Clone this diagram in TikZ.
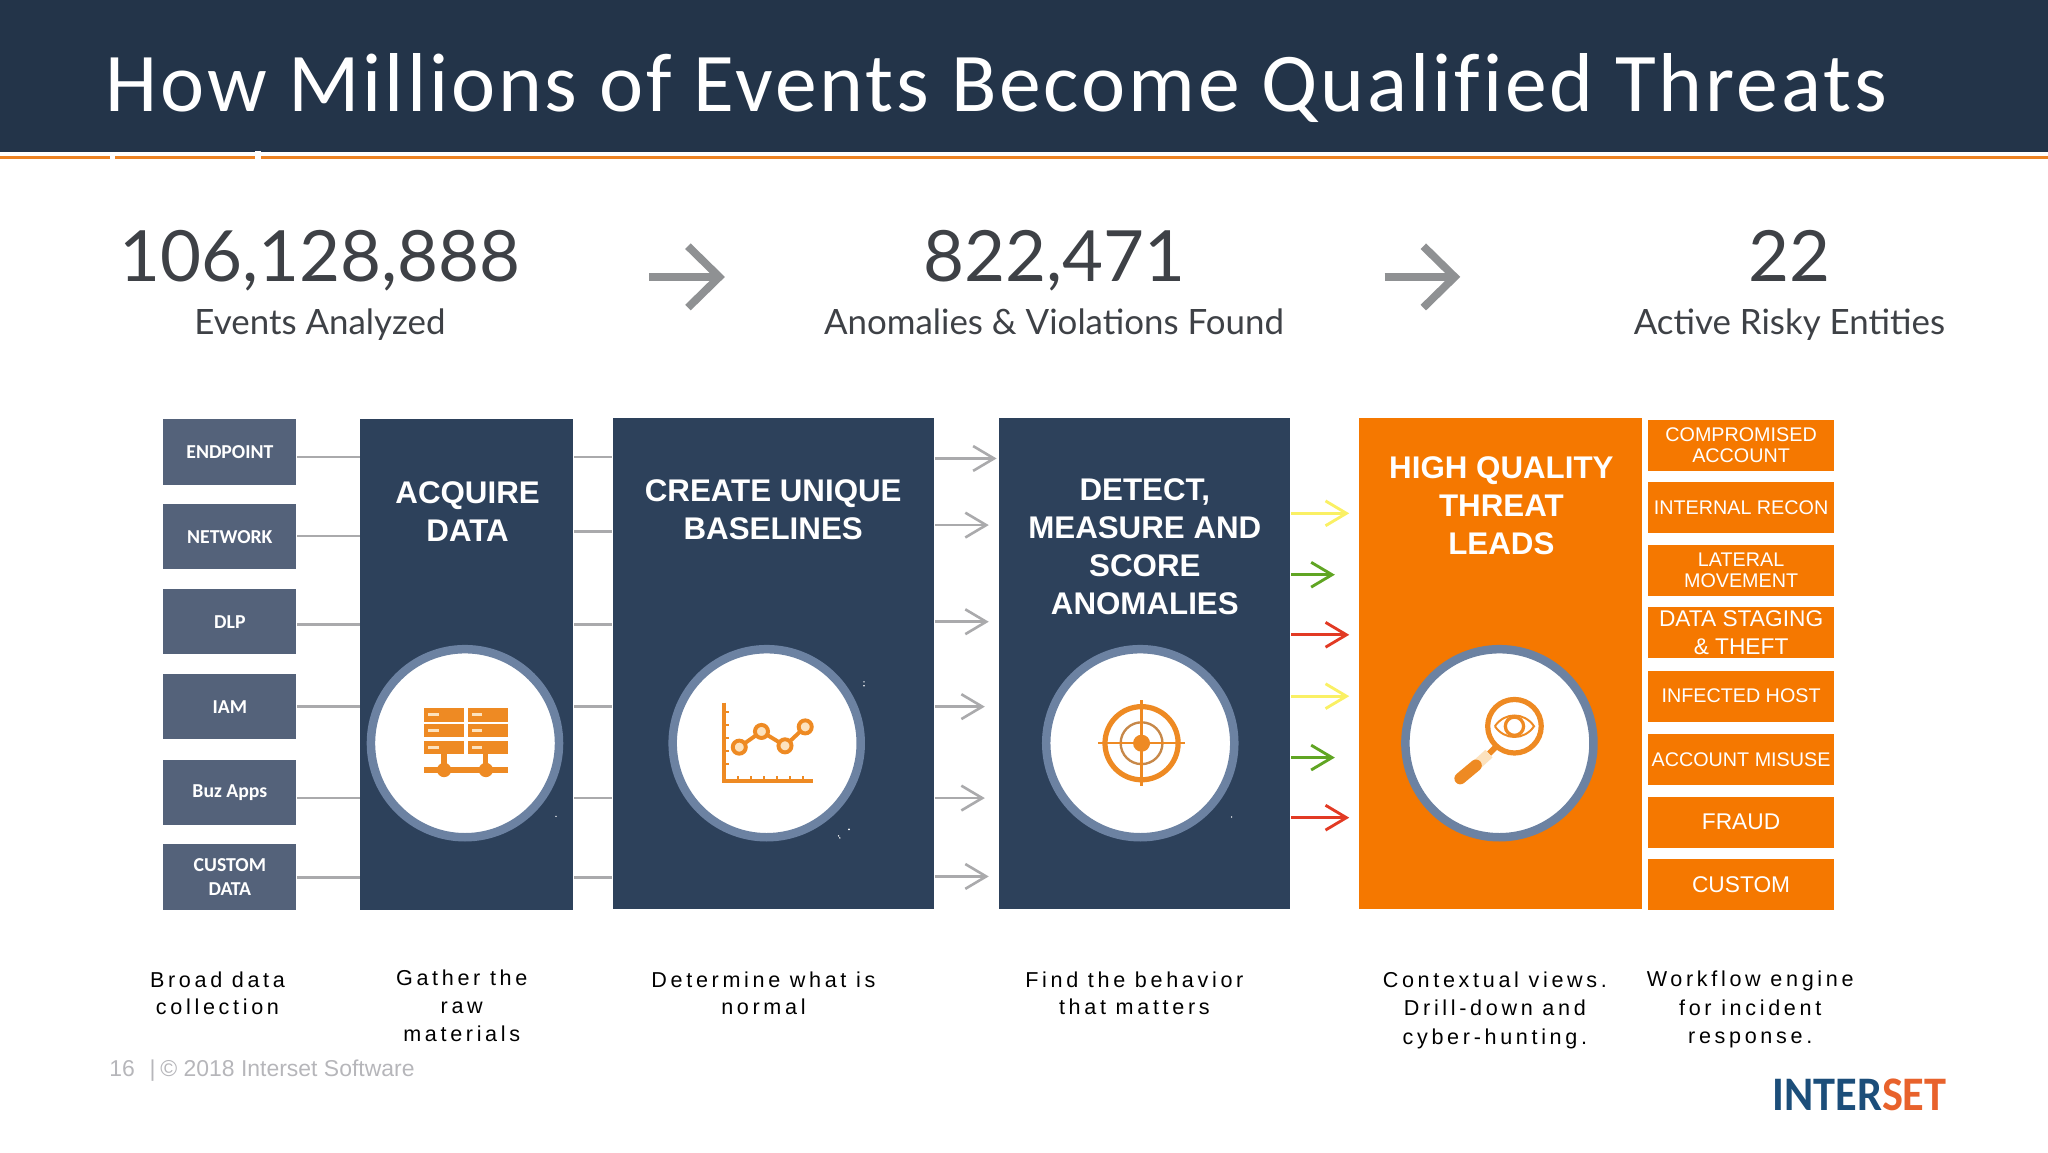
\documentclass[tikz,border=0pt]{standalone}
\usepackage{xcolor}
\usepackage{fontspec}
\usetikzlibrary{positioning, arrows.meta, calc}
\setmainfont{Liberation Sans}
\newfontfamily\carlitofont{Carlito}
\newfontfamily\statfont{Lato}
\newfontfamily\titlefont[LetterSpace=3.5, Ligatures=NoCommon]{Carlito}
\newfontfamily\capfont[LetterSpace=17]{Liberation Sans}
\newfontfamily\logofont[FakeStretch=0.92]{Carlito}
\definecolor{headerblue}{RGB}{35,52,73}
\definecolor{rulecolor}{RGB}{236,130,35}
\definecolor{panelblue}{RGB}{45,65,91}
\definecolor{sourceblue}{RGB}{84,98,122}
\definecolor{leadorange}{RGB}{245,120,0}
\definecolor{ringblue}{RGB}{108,130,162}
\definecolor{iconorange}{RGB}{238,138,35}
\definecolor{iconcream}{RGB}{252,226,190}
\definecolor{linkgray}{RGB}{170,170,172}
\definecolor{bigarrow}{RGB}{143,145,147}
\definecolor{stattext}{RGB}{62,65,70}
\definecolor{footgray}{RGB}{182,182,186}
\definecolor{leadyellow}{RGB}{250,240,100}
\definecolor{leadgreen}{RGB}{96,165,35}
\definecolor{leadred}{RGB}{226,58,36}
\definecolor{logoblue}{RGB}{28,78,122}
\definecolor{logoorange}{RGB}{232,98,44}

\begin{document}
\begin{tikzpicture}[y=-1cm,
    sourcebox/.style={rectangle, fill=sourceblue, text=white, minimum width=1.02cm, minimum height=0.50cm, inner sep=0pt, align=center, font=\carlitofont\bfseries\fontsize{4.3}{5.2}\selectfont},
    panel/.style={rectangle, fill=panelblue, minimum height=3.76cm, inner sep=0pt},
    paneltext/.style={text=white, align=center, inner sep=0pt, font=\bfseries\fontsize{6.82}{8.25}\selectfont},
    outcome/.style={rectangle, fill=leadorange, text=white, minimum width=1.42cm, minimum height=0.39cm, inner sep=0pt, align=center, font=\fontsize{4.3}{4.6}\selectfont},
    outcomebig/.style={outcome, font=\fontsize{4.95}{6}\selectfont},
    ring/.style={circle, fill=white, draw=ringblue, line width=0.065cm, minimum size=1.44cm, inner sep=0pt},
    captiontext/.style={align=center, inner sep=0pt, text=black, font=\capfont\fontsize{4.7}{6}\selectfont},
    statnum/.style={anchor=base, text=stattext, inner sep=0pt, font=\statfont\fontsize{15.4}{18}\selectfont},
    statlabel/.style={anchor=base, text=stattext, inner sep=0pt, font=\statfont\fontsize{7.6}{9}\selectfont},
    link/.style={linkgray, line width=0.02cm},
    linkarrow/.style={link, -{Straight Barb[length=1.6mm, width=1.9mm]}},
    leadarrow/.style={line width=0.022cm, -{Straight Barb[length=1.6mm, width=1.9mm]}},
    statarrow/.style={bigarrow, line width=0.06cm, -{Straight Barb[length=2.4mm, width=4.7mm]}},
    icon/.style={iconorange, line width=0.03cm}
]
    \useasboundingbox (0, 0) rectangle (15.68, 8.82);

    % === HEADER ===
    \fill[headerblue] (0, 0) rectangle (15.68, 1.165);
    \fill[rulecolor] (0, 1.195) rectangle (15.68, 1.22);
    \fill[white] (0.845, 1.185) rectangle (0.88, 1.225);
    \fill[white] (1.955, 1.155) rectangle (1.995, 1.225);
    \node[anchor=west, text=white, inner sep=0pt, font=\titlefont\fontsize{18.2}{22}\selectfont] (title) at (0.80, 0.67) {How Millions of Events Become Qualified Threats};

    % === CHIFFRES ===
    \node[statnum] (eventsnum) at (2.45, 2.155) {106,128,888};
    \node[statlabel] (eventslbl) at (2.45, 2.56) {Events Analyzed};
    \node[statnum] (anomaliesnum) at (8.07, 2.155) {822,471};
    \node[statlabel] (anomalieslbl) at (8.07, 2.56) {Anomalies \& Violations Found};
    \node[statnum] (riskynum) at (13.70, 2.155) {22};
    \node[statlabel] (riskylbl) at (13.70, 2.56) {Active Risky Entities};

    \coordinate (arrowastart) at (4.97, 2.12);
    \coordinate (arrowaend) at (5.55, 2.12);
    \coordinate (arrowbstart) at (10.60, 2.12);
    \coordinate (arrowbend) at (11.18, 2.12);
    \draw[statarrow] (arrowastart) -- (arrowaend);
    \draw[statarrow] (arrowbstart) -- (arrowbend);

    % === SOURCES ===
    \node[sourcebox] (endpoint) at (1.76, 3.46) {ENDPOINT};
    \node[sourcebox] (network) at (1.76, 4.11) {NETWORK};
    \node[sourcebox] (dlp) at (1.76, 4.76) {DLP};
    \node[sourcebox] (iam) at (1.76, 5.41) {IAM};
    \node[sourcebox] (buzapps) at (1.76, 6.065) {Buz Apps};
    \node[sourcebox] (customdata) at (1.76, 6.715) {CUSTOM\\DATA};

    % === COLONNES ===
    \node[panel, minimum width=1.63cm] (acquire) at (3.575, 5.085) {};
    \node[panel, minimum width=2.46cm] (create) at (5.92, 5.08) {};
    \node[panel, minimum width=2.23cm] (detect) at (8.765, 5.08) {};
    \node[panel, minimum width=2.17cm, fill=leadorange] (leads) at (11.49, 5.08) {};

    \node[paneltext] (acquirelbl) at (3.58, 3.915) {ACQUIRE\\DATA};
    \node[paneltext] (createlbl) at (5.92, 3.90) {CREATE UNIQUE\\BASELINES};
    \node[paneltext] (detectlbl) at (8.765, 4.185) {DETECT,\\MEASURE AND\\SCORE\\ANOMALIES};
    \node[paneltext] (leadslbl) at (11.495, 3.87) {HIGH QUALITY\\THREAT\\LEADS};

    % === LIENS ===
    \coordinate (rowa) at (0, 3.50);
    \coordinate (rowb) at (0, 4.105);
    \coordinate (rowbb) at (0, 4.07);
    \coordinate (rowc) at (0, 4.78);
    \coordinate (rowd) at (0, 5.41);
    \coordinate (rowe) at (0, 6.11);
    \coordinate (rowf) at (0, 6.72);

    \draw[link] (endpoint.east |- rowa) -- (acquire.west |- rowa);
    \draw[link] (network.east |- rowb) -- (acquire.west |- rowb);
    \draw[link] (dlp.east |- rowc) -- (acquire.west |- rowc);
    \draw[link] (iam.east |- rowd) -- (acquire.west |- rowd);
    \draw[link] (buzapps.east |- rowe) -- (acquire.west |- rowe);
    \draw[link] (customdata.east |- rowf) -- (acquire.west |- rowf);

    \draw[link] (acquire.east |- rowa) -- (create.west |- rowa);
    \draw[link] (acquire.east |- rowbb) -- (create.west |- rowbb);
    \draw[link] (acquire.east |- rowc) -- (create.west |- rowc);
    \draw[link] (acquire.east |- rowd) -- (create.west |- rowd);
    \draw[link] (acquire.east |- rowe) -- (create.west |- rowe);
    \draw[link] (acquire.east |- rowf) -- (create.west |- rowf);

    \coordinate (tipa) at (7.63, 3.51);
    \coordinate (tipb) at (7.57, 4.02);
    \coordinate (tipc) at (7.57, 4.76);
    \coordinate (tipd) at (7.54, 5.41);
    \coordinate (tipe) at (7.54, 6.11);
    \coordinate (tipf) at (7.57, 6.71);
    \draw[linkarrow] (create.east |- tipa) -- (tipa);
    \draw[linkarrow] (create.east |- tipb) -- (tipb);
    \draw[linkarrow] (create.east |- tipc) -- (tipc);
    \draw[linkarrow] (create.east |- tipd) -- (tipd);
    \draw[linkarrow] (create.east |- tipe) -- (tipe);
    \draw[linkarrow] (create.east |- tipf) -- (tipf);

    \coordinate (leadtipa) at (10.33, 3.93);
    \coordinate (leadtipb) at (10.22, 4.40);
    \coordinate (leadtipc) at (10.33, 4.86);
    \coordinate (leadtipd) at (10.33, 5.33);
    \coordinate (leadtipe) at (10.22, 5.80);
    \coordinate (leadtipf) at (10.33, 6.26);
    \draw[leadarrow, leadyellow] (detect.east |- leadtipa) -- (leadtipa);
    \draw[leadarrow, leadgreen] (detect.east |- leadtipb) -- (leadtipb);
    \draw[leadarrow, leadred] (detect.east |- leadtipc) -- (leadtipc);
    \draw[leadarrow, leadyellow] (detect.east |- leadtipd) -- (leadtipd);
    \draw[leadarrow, leadgreen] (detect.east |- leadtipe) -- (leadtipe);
    \draw[leadarrow, leadred] (detect.east |- leadtipf) -- (leadtipf);

    % === ISSUES ===
    \node[outcome] (compromised) at (13.33, 3.41) {COMPROMISED\\ACCOUNT};
    \node[outcome] (recon) at (13.33, 3.885) {INTERNAL RECON};
    \node[outcome] (lateral) at (13.33, 4.365) {LATERAL\\MOVEMENT};
    \node[outcomebig] (staging) at (13.33, 4.845) {DATA STAGING\\\& THEFT};
    \node[outcome] (infected) at (13.33, 5.33) {INFECTED HOST};
    \node[outcome] (misuse) at (13.33, 5.815) {ACCOUNT MISUSE};
    \node[outcomebig] (fraud) at (13.33, 6.295) {FRAUD};
    \node[outcomebig] (custom) at (13.33, 6.77) {CUSTOM};

    % === ICÔNES ===
    \node[ring] (acquirering) at (3.56, 5.69) {};
    \node[ring] (createring) at (5.87, 5.69) {};
    \node[ring] (detectring) at (8.73, 5.69) {};
    \node[ring] (leadsring) at (11.48, 5.69) {};

    % serveurs
    \begin{scope}[shift={(acquirering.center)}]
        \fill[iconorange] (-0.31, -0.27) rectangle (-0.01, -0.165);
        \fill[iconorange] (0.02, -0.27) rectangle (0.33, -0.165);
        \fill[iconorange] (-0.31, -0.15) rectangle (-0.01, -0.05);
        \fill[iconorange] (0.02, -0.15) rectangle (0.33, -0.05);
        \fill[iconorange] (-0.31, -0.015) rectangle (-0.01, 0.08);
        \fill[iconorange] (0.02, -0.015) rectangle (0.33, 0.08);
        \fill[iconcream] (-0.28, -0.23) rectangle (-0.20, -0.205);
        \fill[iconcream] (0.05, -0.23) rectangle (0.13, -0.205);
        \fill[iconcream] (-0.28, -0.11) rectangle (-0.20, -0.085);
        \fill[iconcream] (0.05, -0.11) rectangle (0.13, -0.085);
        \fill[iconcream] (-0.28, 0.02) rectangle (-0.20, 0.045);
        \fill[iconcream] (0.05, 0.02) rectangle (0.13, 0.045);
        \draw[icon, line width=0.04cm] (-0.31, 0.205) -- (0.33, 0.205);
        \draw[icon, line width=0.04cm] (-0.16, 0.08) -- (-0.16, 0.205);
        \draw[icon, line width=0.04cm] (0.16, 0.08) -- (0.16, 0.205);
        \fill[iconorange] (-0.16, 0.205) circle (0.055);
        \fill[iconorange] (0.16, 0.205) circle (0.055);
    \end{scope}

    % courbe
    \begin{scope}[shift={(createring.center)}]
        \draw[icon] (-0.33, -0.31) -- (-0.33, 0.29) -- (0.355, 0.29);
        \draw[icon, line width=0.015cm] (-0.33, -0.24) -- (-0.29, -0.24) (-0.33, -0.14) -- (-0.29, -0.14) (-0.33, -0.04) -- (-0.29, -0.04) (-0.33, 0.06) -- (-0.29, 0.06) (-0.33, 0.16) -- (-0.29, 0.16);
        \draw[icon, line width=0.015cm] (-0.22, 0.29) -- (-0.22, 0.25) (-0.12, 0.29) -- (-0.12, 0.25) (-0.02, 0.29) -- (-0.02, 0.25) (0.08, 0.29) -- (0.08, 0.25) (0.18, 0.29) -- (0.18, 0.25) (0.28, 0.29) -- (0.28, 0.25);
        \draw[icon] (-0.21, 0.03) -- (-0.04, -0.09) -- (0.14, 0.02) -- (0.295, -0.125);
        \draw[icon, fill=iconcream] (-0.21, 0.03) circle (0.05);
        \draw[icon, fill=iconcream] (-0.04, -0.09) circle (0.05);
        \draw[icon, fill=iconcream] (0.14, 0.02) circle (0.05);
        \draw[icon, fill=iconcream] (0.295, -0.125) circle (0.05);
    \end{scope}

    % cible
    \begin{scope}[shift={(detectring.center)}, xshift=0.01cm]
        \draw[icon, line width=0.04cm] (0, 0) circle (0.28);
        \draw[icon, line width=0.018cm, color=iconorange!70!ringblue] (0, 0) circle (0.16);
        \fill[iconorange] (0, 0) circle (0.065);
        \draw[icon, line width=0.018cm] (-0.33, 0) -- (0.33, 0);
        \draw[icon, line width=0.018cm] (0, -0.33) -- (0, 0.33);
    \end{scope}

    % loupe
    \begin{scope}[shift={(leadsring.center)}]
        \draw[icon, line width=0.04cm] (0.115, -0.13) circle (0.205);
        \draw[icon, line width=0.015cm] (-0.035, -0.13) .. controls (0.04, -0.24) and (0.19, -0.24) .. (0.265, -0.13) .. controls (0.19, -0.02) and (0.04, -0.02) .. (-0.035, -0.13);
        \draw[icon, line width=0.025cm] (0.115, -0.13) circle (0.07);
        \draw[icon, line width=0.045cm] (-0.02, 0.02) -- (-0.08, 0.08);
        \draw[iconcream, line width=0.08cm] (-0.08, 0.08) -- (-0.18, 0.17);
        \draw[iconorange, line width=0.09cm, line cap=round] (-0.18, 0.17) -- (-0.30, 0.27);
    \end{scope}

    % points parasites
    \fill[white] (4.257, 6.25) circle (0.006);
    \fill[white] (6.615, 5.22) circle (0.006);
    \fill[white] (6.615, 5.25) circle (0.006);
    \fill[white] (6.43, 6.415) circle (0.006);
    \fill[white] (6.50, 6.35) circle (0.008);
    \fill[white] (6.42, 6.40) circle (0.006);
    \fill[white] (9.43, 6.255) circle (0.006);

    % === LÉGENDES ===
    \node[captiontext] (broadcap) at (1.665, 7.605) {Broad data\\collection};
    \node[captiontext] (gathercap) at (3.535, 7.70) {Gather the\\raw\\materials};
    \node[captiontext] (determinecap) at (5.845, 7.605) {Determine what is\\normal};
    \node[captiontext] (findcap) at (8.685, 7.605) {Find the behavior\\that matters};
    \node[captiontext, font=\capfont\fontsize{4.7}{6.2}\selectfont] (contextcap) at (11.445, 7.735) {Contextual views.\\Drill-down and\\cyber-hunting.};
    \node[captiontext, font=\capfont\fontsize{4.7}{6.2}\selectfont] (workflowcap) at (13.40, 7.73) {Workflow engine\\for incident\\response.};

    % === PIED DE PAGE ===
    \node[anchor=west, text=footgray, inner sep=0pt, font=\fontsize{5}{6}\selectfont] (footer) at (0.83, 8.20) {16\hspace{0.65em}|\hspace{0.2em}© 2018 Interset Software};
    \node[anchor=east, inner sep=0pt, font=\logofont\bfseries\fontsize{10.5}{12}\selectfont] (logo) at (14.91, 8.38) {\textcolor{logoblue}{INTER}\textcolor{logoorange}{SET}};
\end{tikzpicture}
\end{document}
